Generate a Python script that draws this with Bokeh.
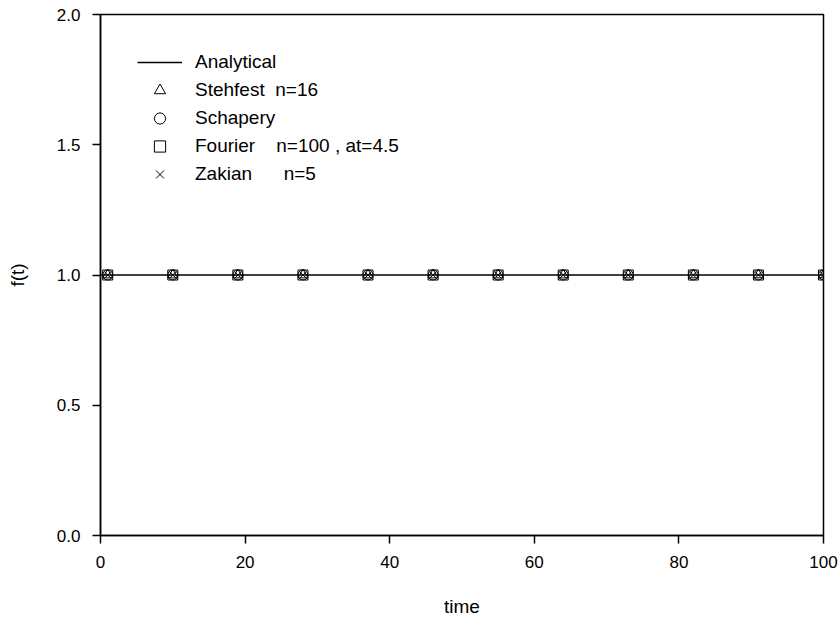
from bokeh.plotting import figure
from bokeh.models import Legend, LegendItem, Range1d, FixedTicker
from bokeh.embed import file_html
from bokeh.resources import INLINE

# Data
analytical_t = [0, 100]
analytical_f = [1.0, 1.0]
sample_t = [1, 10, 19, 28, 37, 46, 55, 64, 73, 82, 91, 100]
stehfest_f = [1.0] * 12
schapery_f = [1.0] * 12
fourier_f = [1.0] * 12
zakian_f = [1.0] * 12
x_ticks = [0, 20, 40, 60, 80, 100]
y_ticks = [0.0, 0.5, 1.0, 1.5, 2.0]

FONT = "Liberation Sans"

p = figure(width=840, height=623, output_backend="svg", toolbar_location=None,
           x_range=Range1d(0, 100), y_range=Range1d(0, 2.0),
           min_border_left=100, min_border_right=17, min_border_top=14, min_border_bottom=88)
p.xgrid.visible = False
p.ygrid.visible = False
p.outline_line_color = "black"
p.outline_line_width = 1.5
p.background_fill_color = "white"
p.border_fill_color = "white"

r_line = p.line(analytical_t, analytical_f, line_color="black", line_width=1.5)
mk = dict(size=10, line_color="black", line_width=1, fill_alpha=0)
r_tri = p.scatter(sample_t, stehfest_f, marker="triangle", **mk)
r_cir = p.scatter(sample_t, schapery_f, marker="circle", **mk)
r_sq = p.scatter(sample_t, fourier_f, marker="square", **mk)
r_x = p.scatter(sample_t, zakian_f, marker="x", size=10, line_color="black", line_width=1)

for ax in (p.xaxis[0], p.yaxis[0]):
    ax.axis_line_color = "black"
    ax.axis_line_width = 1.5
    ax.major_tick_line_color = "black"
    ax.major_tick_line_width = 1.5
    ax.minor_tick_line_color = None
    ax.major_tick_out = 8
    ax.major_tick_in = 0
    ax.major_label_text_font = FONT
    ax.major_label_text_font_size = "17px"
    ax.major_label_text_color = "black"
    ax.axis_label_text_font = FONT
    ax.axis_label_text_font_size = "19px"
    ax.axis_label_text_font_style = "normal"
    ax.axis_label_text_color = "black"

p.xaxis.ticker = FixedTicker(ticks=x_ticks)
p.yaxis.ticker = FixedTicker(ticks=y_ticks)
p.yaxis.major_label_overrides = {0: "0.0", 0.5: "0.5", 1: "1.0", 1.5: "1.5", 2: "2.0"}
p.xaxis.axis_label = "time"
p.yaxis.axis_label = "f(t)"
p.xaxis.major_label_standoff = 12
p.yaxis.major_label_standoff = 12
p.xaxis.axis_label_standoff = 25
p.yaxis.axis_label_standoff = 26

legend = Legend(items=[
    LegendItem(label="Analytical", renderers=[r_line]),
    LegendItem(label="Stehfest  n=16", renderers=[r_tri]),
    LegendItem(label="Schapery", renderers=[r_cir]),
    LegendItem(label="Fourier    n=100 , at=4.5", renderers=[r_sq]),
    LegendItem(label="Zakian      n=5", renderers=[r_x]),
], location=(37, 347))
legend.margin = 0
legend.padding = 0
legend.spacing = 0
legend.glyph_width = 45
legend.glyph_height = 28
legend.label_height = 28
legend.label_standoff = 13
legend.label_text_font = FONT
legend.label_text_font_size = "19px"
legend.label_text_color = "black"
legend.border_line_alpha = 0
legend.background_fill_alpha = 0
p.add_layout(legend)

open("out.html", "w").write(file_html(p, INLINE))
